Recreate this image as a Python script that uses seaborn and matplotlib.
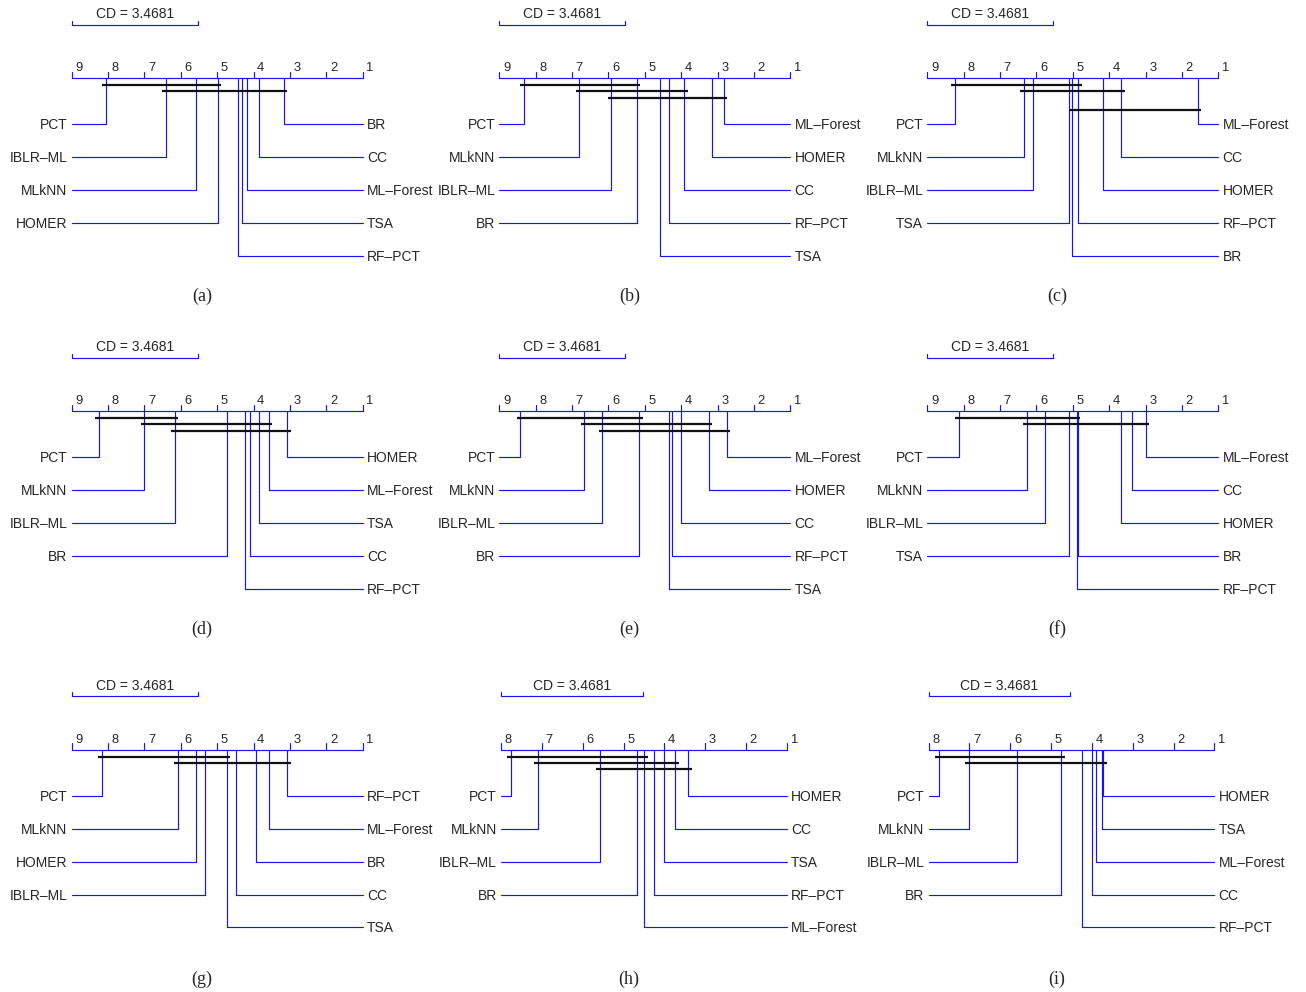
import numpy as np
import matplotlib
matplotlib.use("Agg")
import matplotlib.pyplot as plt
import seaborn as sns

# ---------------- theme ----------------
sns.set_theme(style="white")
plt.rcParams['font.family'] = ['Liberation Sans', 'DejaVu Sans']
plt.rcParams['axes.facecolor'] = 'none'

LINE_BLUE = "#1414ff"
BAR_BLACK = "#111111"

# ---------------- data ----------------
METHODS = ["BR", "CC", "HOMER", "IBLR–ML", "ML–Forest", "MLkNN", "PCT", "RF–PCT", "TSA"]
CD = 3.4681
TAGS = ["(a)", "(b)", "(c)", "(d)", "(e)", "(f)", "(g)", "(h)", "(i)"]
MAX_RANK = [9, 9, 9, 9, 9, 9, 9, 8, 8]

# average ranks, same order as METHODS
ranks_a = [3.17, 3.84, 4.99, 6.42, 4.18, 5.58, 8.07, 4.42, 4.33]
ranks_b = [5.22, 3.91, 3.15, 5.92, 2.83, 6.80, 8.33, 4.33, 4.58]
ranks_c = [5.01, 3.67, 4.17, 6.09, 1.57, 6.34, 8.25, 4.85, 5.10]
ranks_d = [4.74, 4.09, 3.08, 6.17, 3.58, 7.00, 8.25, 4.23, 3.84]
ranks_e = [5.16, 4.00, 3.24, 6.17, 2.75, 6.66, 8.42, 4.24, 4.33]
ranks_f = [4.87, 3.37, 3.67, 5.76, 3.00, 6.26, 8.14, 4.89, 5.10]
ranks_g = [3.92, 4.49, 5.58, 5.33, 3.58, 6.09, 8.17, 3.08, 4.74]
ranks_h = [4.66, 3.74, 3.42, 5.58, 4.51, 7.09, 7.76, 4.26, 4.00]
ranks_i = [4.75, 4.00, 3.72, 5.83, 3.91, 7.00, 7.75, 4.25, 3.75]

# groups of not significantly different methods (first, last member)
cliques_a = [("PCT", "HOMER"), ("IBLR–ML", "BR")]
cliques_b = [("PCT", "BR"), ("MLkNN", "CC"), ("IBLR–ML", "ML–Forest")]
cliques_c = [("PCT", "RF–PCT"), ("MLkNN", "CC"), ("BR", "ML–Forest")]
cliques_d = [("PCT", "IBLR–ML"), ("MLkNN", "ML–Forest"), ("IBLR–ML", "HOMER")]
cliques_e = [("PCT", "BR"), ("MLkNN", "HOMER"), ("IBLR–ML", "ML–Forest")]
cliques_f = [("PCT", "RF–PCT"), ("MLkNN", "ML–Forest")]
cliques_g = [("PCT", "TSA"), ("MLkNN", "RF–PCT")]
cliques_h = [("PCT", "ML–Forest"), ("MLkNN", "CC"), ("IBLR–ML", "HOMER")]
cliques_i = [("PCT", "BR"), ("MLkNN", "HOMER")]

all_ranks = [ranks_a, ranks_b, ranks_c, ranks_d, ranks_e, ranks_f, ranks_g, ranks_h, ranks_i]
all_cliques = [cliques_a, cliques_b, cliques_c, cliques_d, cliques_e,
               cliques_f, cliques_g, cliques_h, cliques_i]

# ---------------- layout (pixels) ----------------
FIG_W, FIG_H = 1306, 992
ROW_TOP = [0, 333, 671.7]
CAPTION_Y = [301, 301, 312]
AXIS_SPAN = [(71.7, 362.7), (499.3, 790.3), (927.3, 1218.3),
             (71.7, 362.7), (499.3, 790.3), (927.3, 1218.3),
             (71.7, 362.7), (501.0, 787.0), (928.7, 1214.3)]
BAR_LEVELS = [[0, 1], [0, 1, 2], [0, 1, 4], [0, 1, 2], [0, 1, 2],
              [0, 1], [0, 1], [0, 1, 2], [0, 1]]
AXIS_Y = 78.3
TICK_LEN = 6.7
BAR_Y0, BAR_STEP = 85.0, 6.33
ROW_Y0, ROW_STEP = 124.3, 32.85
LW = 0.85


def draw_cd(ax, ranks, cliques, levels, kmax, tag, cap_y):
    ranks = np.asarray(ranks)
    ax.set_xlim(kmax, 1)
    ax.set_ylim(320, -5)
    ax.axis('off')

    # critical difference bracket
    ax.plot([kmax, kmax, kmax - CD, kmax - CD], [20.7, 24.7, 24.7, 20.7],
            color=LINE_BLUE, lw=LW, clip_on=False)
    ax.text(kmax - CD / 2, 18.3, f"CD = {CD}", ha='center', va='baseline', fontsize=10)

    # rank axis
    ax.plot([kmax, 1], [AXIS_Y, AXIS_Y], color=LINE_BLUE, lw=LW, clip_on=False)
    for k in range(1, kmax + 1):
        ax.plot([k, k], [AXIS_Y, AXIS_Y - TICK_LEN], color=LINE_BLUE, lw=LW, clip_on=False)
        ax.annotate(str(k), (k, 71), xytext=(2.6, 0), textcoords='offset points',
                    ha='left', va='baseline', fontsize=9.3)

    order = np.argsort(-ranks)
    n_left = len(ranks) // 2
    left = order[:n_left]
    right = order[n_left:][::-1]

    for i, idx in enumerate(left):
        y = ROW_Y0 + ROW_STEP * i
        ax.plot([ranks[idx], ranks[idx], kmax], [AXIS_Y, y, y],
                color=LINE_BLUE, lw=LW, clip_on=False)
        ax.annotate(METHODS[idx], (kmax, y + 5), xytext=(-3, 0), textcoords='offset points',
                    ha='right', va='baseline', fontsize=10)
    for i, idx in enumerate(right):
        y = ROW_Y0 + ROW_STEP * i
        ax.plot([ranks[idx], ranks[idx], 1], [AXIS_Y, y, y],
                color=LINE_BLUE, lw=LW, clip_on=False)
        ax.annotate(METHODS[idx], (1, y + 5), xytext=(3, 0), textcoords='offset points',
                    ha='left', va='baseline', fontsize=10)

    # clique bars
    for (first, last), lev in zip(cliques, levels):
        r1 = ranks[METHODS.index(first)] + 0.1
        r2 = ranks[METHODS.index(last)] - 0.1
        y = BAR_Y0 + BAR_STEP * lev
        ax.plot([r1, r2], [y, y], color=BAR_BLACK, lw=1.6, clip_on=False,
                solid_capstyle='butt')

    ax.annotate(tag, ((kmax + 1) / 2, cap_y), xytext=(-11, 0), textcoords='offset points',
                ha='center', va='baseline', fontsize=13,
                family=['Liberation Serif', 'DejaVu Serif'])


fig = plt.figure(figsize=(FIG_W / 100, FIG_H / 100), dpi=100)
fig.patch.set_facecolor('white')

for p in range(9):
    row = p // 3
    x0, x1 = AXIS_SPAN[p]
    top = ROW_TOP[row] - 5
    height = 325
    rect = [x0 / FIG_W, 1 - (top + height) / FIG_H, (x1 - x0) / FIG_W, height / FIG_H]
    ax = fig.add_axes(rect)
    draw_cd(ax, all_ranks[p], all_cliques[p], BAR_LEVELS[p], MAX_RANK[p],
            TAGS[p], CAPTION_Y[row])

fig.savefig("out.png", dpi=100, facecolor='white')
